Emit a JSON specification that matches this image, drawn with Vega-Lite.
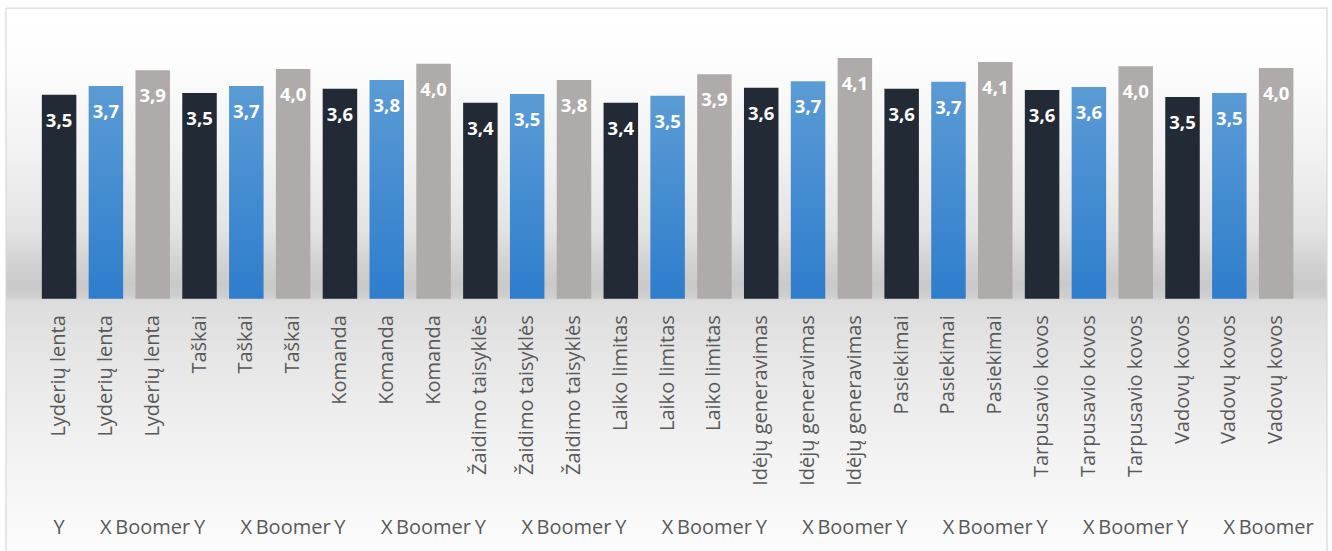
{
  "$schema": "https://vega.github.io/schema/vega-lite/v6.json",
  "width": 1321,
  "height": 546,
  "autosize": {"type": "none"},
  "padding": {"left": 6, "top": 8, "right": 5, "bottom": -3},
  "background": "#ffffff",
  "config": {
    "view": {"stroke": null},
    "axis": {"domain": false, "ticks": false, "tickSize": 0, "grid": false, "title": null, "zindex": 2, "labelFont": "Open Sans", "labelFontSize": 20, "labelColor": "#595959"}
  },
  "datasets": {
    "bars": [
      {"key": "Lyderių lenta|Y", "gen": "Y", "value": 3.51, "label": "3,5"},
      {"key": "Lyderių lenta|X", "gen": "X", "value": 3.66, "label": "3,7"},
      {"key": "Lyderių lenta|Boomer", "gen": "Boomer", "value": 3.93, "label": "3,9"},
      {"key": "Taškai|Y", "gen": "Y", "value": 3.54, "label": "3,5"},
      {"key": "Taškai|X", "gen": "X", "value": 3.66, "label": "3,7"},
      {"key": "Taškai|Boomer", "gen": "Boomer", "value": 3.95, "label": "4,0"},
      {"key": "Komanda|Y", "gen": "Y", "value": 3.61, "label": "3,6"},
      {"key": "Komanda|X", "gen": "X", "value": 3.76, "label": "3,8"},
      {"key": "Komanda|Boomer", "gen": "Boomer", "value": 4.04, "label": "4,0"},
      {"key": "Žaidimo taisyklės|Y", "gen": "Y", "value": 3.37, "label": "3,4"},
      {"key": "Žaidimo taisyklės|X", "gen": "X", "value": 3.52, "label": "3,5"},
      {"key": "Žaidimo taisyklės|Boomer", "gen": "Boomer", "value": 3.76, "label": "3,8"},
      {"key": "Laiko limitas|Y", "gen": "Y", "value": 3.37, "label": "3,4"},
      {"key": "Laiko limitas|X", "gen": "X", "value": 3.49, "label": "3,5"},
      {"key": "Laiko limitas|Boomer", "gen": "Boomer", "value": 3.86, "label": "3,9"},
      {"key": "Idėjų generavimas|Y", "gen": "Y", "value": 3.63, "label": "3,6"},
      {"key": "Idėjų generavimas|X", "gen": "X", "value": 3.74, "label": "3,7"},
      {"key": "Idėjų generavimas|Boomer", "gen": "Boomer", "value": 4.14, "label": "4,1"},
      {"key": "Pasiekimai|Y", "gen": "Y", "value": 3.61, "label": "3,6"},
      {"key": "Pasiekimai|X", "gen": "X", "value": 3.73, "label": "3,7"},
      {"key": "Pasiekimai|Boomer", "gen": "Boomer", "value": 4.07, "label": "4,1"},
      {"key": "Tarpusavio kovos|Y", "gen": "Y", "value": 3.59, "label": "3,6"},
      {"key": "Tarpusavio kovos|X", "gen": "X", "value": 3.64, "label": "3,6"},
      {"key": "Tarpusavio kovos|Boomer", "gen": "Boomer", "value": 4.0, "label": "4,0"},
      {"key": "Vadovų kovos|Y", "gen": "Y", "value": 3.47, "label": "3,5"},
      {"key": "Vadovų kovos|X", "gen": "X", "value": 3.54, "label": "3,5"},
      {"key": "Vadovų kovos|Boomer", "gen": "Boomer", "value": 3.97, "label": "4,0"}
    ]
  },
  "layer": [
    {
      "data": {"values": [{"bg": 1}]},
      "mark": {
        "type": "rect",
        "stroke": "#d9d9d9",
        "strokeWidth": 1.25,
        "color": {
          "gradient": "linear", "x1": 0, "y1": 0, "x2": 0, "y2": 1,
          "stops": [
            {"offset": 0, "color": "#ffffff"},
            {"offset": 0.095, "color": "#fdfdfd"},
            {"offset": 0.26, "color": "#f2f2f2"},
            {"offset": 0.407, "color": "#e3e3e3"},
            {"offset": 0.465, "color": "#d3d3d3"},
            {"offset": 0.507, "color": "#c9c9c9"},
            {"offset": 0.529, "color": "#cfcfcf"},
            {"offset": 0.536, "color": "#dcdcdc"},
            {"offset": 0.626, "color": "#e5e5e5"},
            {"offset": 0.81, "color": "#f2f2f2"},
            {"offset": 1, "color": "#fcfcfc"}
          ]
        }
      },
      "encoding": {
        "x": {"value": 0},
        "x2": {"value": "width"},
        "y": {"value": 0},
        "y2": {"value": "height"}
      }
    },
    {
      "data": {"name": "bars"},
      "mark": {"type": "bar"},
      "encoding": {
        "x": {
          "field": "key", "type": "nominal", "sort": null,
          "scale": {"paddingInner": 0.263, "paddingOuter": 0.742, "align": 0.516},
          "axis": {"orient": "bottom", "offset": -255.3, "labelAngle": 270, "labelPadding": 16, "labelExpr": "split(datum.value, '|')[0]", "labelOverlap": false, "labelBound": false, "labelFlush": false, "zindex": 2}
        },
        "y": {"field": "value", "type": "quantitative", "scale": {"domain": [-4.39, 5.0], "nice": false, "zero": false}, "axis": null},
        "color": {
          "condition": {
            "test": "datum.gen === 'X'",
            "value": {
              "gradient": "linear", "x1": 0, "y1": 0, "x2": 0, "y2": 1,
              "stops": [
                {"offset": 0, "color": "#5B9BD5"},
                {"offset": 1, "color": "#2E7DCC"}
              ]
            }
          },
          "field": "gen", "type": "nominal",
          "scale": {"domain": ["Y", "X", "Boomer"], "range": ["#222A35", "#4A90D9", "#AFABAB"]},
          "legend": null
        }
      }
    },
    {
      "data": {"name": "bars"},
      "mark": {"type": "text", "align": "center", "baseline": "alphabetic", "dy": 32, "font": "Open Sans", "fontWeight": "bold", "fontSize": 18.5, "color": "#ffffff"},
      "encoding": {
        "x": {
          "field": "key", "type": "nominal", "sort": null,
          "axis": {"orient": "bottom", "offset": -21, "labelAngle": 0, "labelPadding": 0, "labelBaseline": "alphabetic", "labelExpr": "split(datum.value, '|')[1]", "labelOverlap": false, "labelBound": false, "labelFlush": false, "zindex": 2}
        },
        "y": {"field": "value", "type": "quantitative", "axis": null},
        "text": {"field": "label"}
      }
    }
  ],
  "resolve": {"axis": {"x": "independent"}}
}
